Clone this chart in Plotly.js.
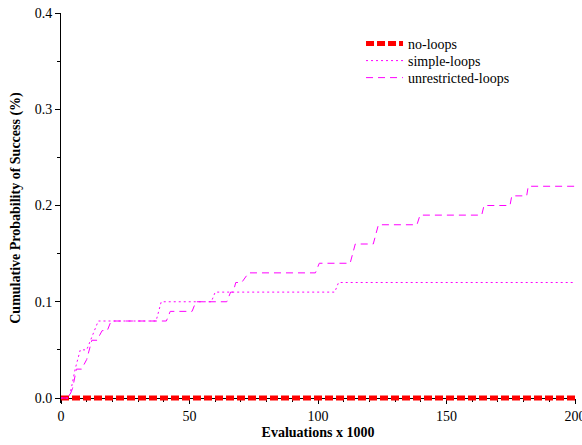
<!DOCTYPE html>
<html>
<head>
<meta charset="utf-8">
<script src="https://cdn.plot.ly/plotly-3.0.1.min.js"></script>
<style>html,body{margin:0;padding:0;background:#fff;}#chart{width:582px;height:445px;}</style>
</head>
<body>
<div id="chart"></div>
<script>
// Evaluations (x 1000) and cumulative probability of success
const noLoopsX = [0, 200];
const noLoopsY = [0, 0];

const simpleX = [0, 3, 4, 5.5, 7.5, 10, 11.5, 13, 14.5, 37, 39, 58.5, 60, 106.5, 108, 200];
const simpleY = [0, 0, 0.01, 0.03, 0.05, 0.05, 0.06, 0.07, 0.08, 0.08, 0.10, 0.10, 0.11, 0.11, 0.12, 0.12];

const unrestrictedX = [0, 3, 4.5, 6, 8, 10, 12, 14, 16, 18, 19.5, 41, 42.5, 51, 52.5, 64.5, 66, 67, 68, 70.3, 73, 99, 100.5, 112.5, 114.5, 121.5, 123.5, 138.5, 139.7, 163.7, 164.6, 174.7, 175.4, 181.2, 181.8, 200];
const unrestrictedY = [0, 0, 0.01, 0.03, 0.03, 0.04, 0.06, 0.06, 0.07, 0.07, 0.08, 0.08, 0.09, 0.09, 0.10, 0.10, 0.11, 0.11, 0.12, 0.12, 0.13, 0.13, 0.14, 0.14, 0.16, 0.16, 0.18, 0.18, 0.19, 0.19, 0.20, 0.20, 0.21, 0.21, 0.22, 0.22];

const seriesNames = ["no-loops", "simple-loops", "unrestricted-loops"];
const xTicks = [0, 50, 100, 150, 200];
const yTicks = [0, 0.1, 0.2, 0.3, 0.4];

const FONT = "Liberation Serif, Times New Roman, serif";
const F = (s) => ({family: FONT, size: s, color: "#000"});

const traces = [
  {x: noLoopsX, y: noLoopsY, name: seriesNames[0], mode: "lines", cliponaxis: false, legend: "legend",
   line: {color: "#ff0000", width: 5, dash: "8px,3px"}},
  {x: simpleX, y: simpleY, name: seriesNames[1], mode: "lines", cliponaxis: false, legend: "legend2",
   line: {color: "#ff00ff", width: 1, dash: "2px,3px"}},
  {x: unrestrictedX, y: unrestrictedY, name: seriesNames[2], mode: "lines", cliponaxis: false, legend: "legend3",
   line: {color: "#ff00ff", width: 1, dash: "7px,5px"}}
];

const legBase = {x: 0.5837, xanchor: "left", yanchor: "middle", bgcolor: "rgba(0,0,0,0)",
                 font: F(14), itemwidth: 37, borderwidth: 0};

const layout = {
  width: 582, height: 445,
  margin: {l: 61, r: 7, t: 13, b: 42},
  paper_bgcolor: "#fff", plot_bgcolor: "#fff",
  font: F(14),
  showlegend: true,
  legend: Object.assign({}, legBase, {y: 0.9205}),
  legend2: Object.assign({}, legBase, {y: 0.8769}),
  legend3: Object.assign({}, legBase, {y: 0.8333}),
  xaxis: {
    range: [0, 200], tickvals: xTicks, ticktext: xTicks.map(String),
    anchor: "free", position: 0.01282, layer: "below traces",
    showgrid: false, zeroline: false, showline: true, linecolor: "#000", linewidth: 1,
    ticks: "outside", ticklen: 5, tickcolor: "#000", ticklabeloverflow: "allow",
    minor: {ticks: "outside", dtick: 10, ticklen: 3, tickcolor: "#000", showgrid: false},
    tickfont: F(14),
    title: {text: "<b>Evaluations x 1000</b>", font: F(14), standoff: 4}
  },
  yaxis: {
    range: [-0.0052, 0.4], tickvals: yTicks, ticktext: yTicks.map(v => v.toFixed(1)),
    showgrid: false, zeroline: false, showline: true, linecolor: "#000", linewidth: 1,
    ticks: "outside", ticklen: 5, tickcolor: "#000", layer: "below traces",
    minor: {ticks: "outside", dtick: 0.05, ticklen: 3, tickcolor: "#000", showgrid: false},
    tickfont: F(14),
    title: {text: "<b>Cumulative Probability of Success (%)</b>", font: F(14), standoff: 10}
  }
};

Plotly.newPlot("chart", traces, layout, {displayModeBar: false, staticPlot: true});
</script>
</body>
</html>
